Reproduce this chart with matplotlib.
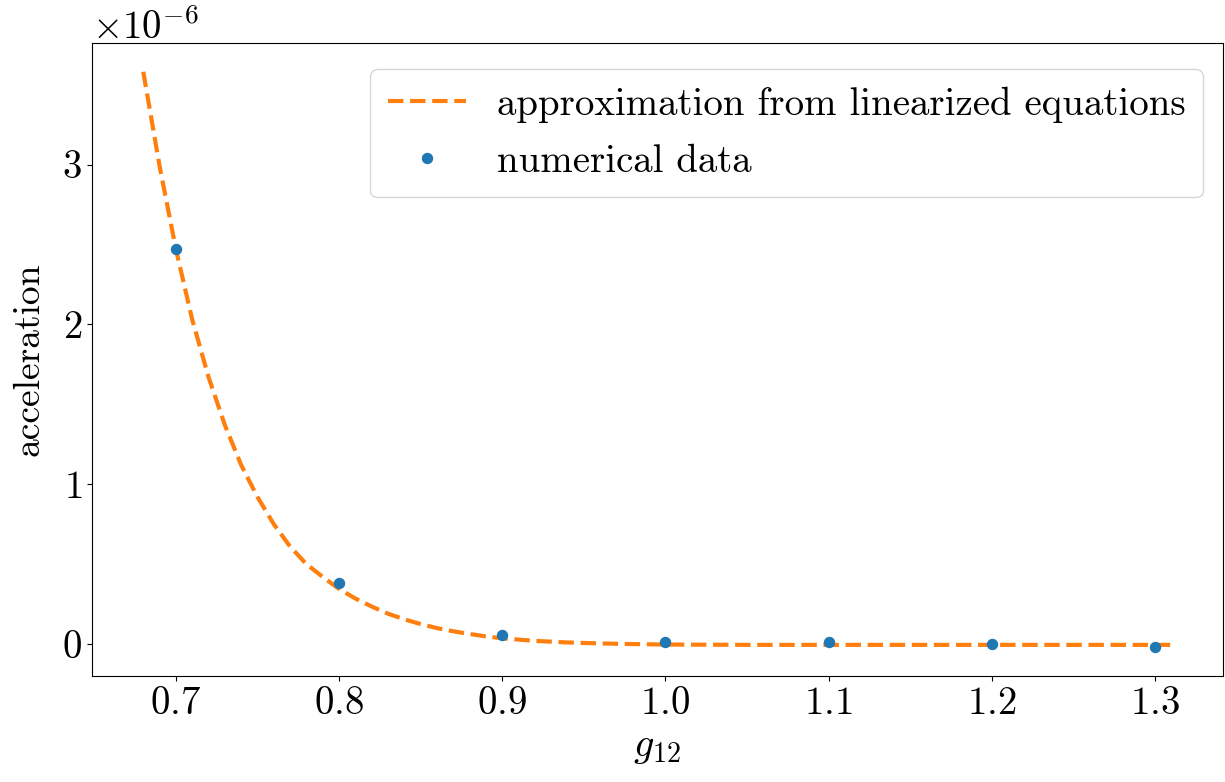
import matplotlib
matplotlib.use("Agg")
import matplotlib.pyplot as plt
from matplotlib.ticker import MultipleLocator
import numpy as np

# valores (aceleracion en unidades de 1e-6)
g12_curve = [0.68, 0.69, 0.70, 0.71, 0.72, 0.73, 0.74, 0.75, 0.76, 0.77, 0.78,
             0.79, 0.80, 0.81, 0.82, 0.83, 0.84, 0.85, 0.86, 0.87, 0.88, 0.89,
             0.90, 0.92, 0.94, 0.96, 0.98, 1.00, 1.05, 1.10, 1.15, 1.20, 1.25, 1.31]
acc_curve = [3.58, 2.99, 2.47, 2.03, 1.67, 1.37, 1.12, 0.92, 0.75, 0.61, 0.50,
             0.42, 0.345, 0.285, 0.235, 0.19, 0.155, 0.125, 0.10, 0.08, 0.063, 0.048,
             0.036, 0.02, 0.01, 0.004, 0.0, -0.003, -0.005, -0.005, -0.005, -0.005,
             -0.005, -0.005]

g12_data = [0.7, 0.8, 0.9, 1.0, 1.1, 1.2, 1.3]
acc_data = [2.47, 0.38, 0.055, 0.015, 0.012, 0.0, -0.02]

plt.rcParams['font.family'] = 'serif'
plt.rcParams['font.serif'] = ['cmr10', 'DejaVu Serif']
plt.rcParams['mathtext.fontset'] = 'cm'
plt.rcParams['axes.formatter.use_mathtext'] = True
plt.rcParams['font.size'] = 28

fig = plt.figure(figsize=(12.25, 7.82), dpi=100)
ax = fig.add_axes([0.075, 0.1355, 0.923, 0.8095])

ax.plot(g12_curve, np.array(acc_curve) * 1e-6, '--', color='#ff7f0e', linewidth=3.0,
        label='approximation from linearized equations')
ax.plot(g12_data, np.array(acc_data) * 1e-6, 'o', color='#1f77b4', markersize=7.2,
        label='numerical data')

ax.yaxis.set_major_locator(MultipleLocator(1e-6))
ax.set_xlabel('$g_{12}$', fontsize=29, labelpad=6)
ax.set_ylabel('acceleration', fontsize=27, labelpad=12)
ax.legend(loc='upper right', bbox_to_anchor=(1.0, 0.99), fontsize=28,
          handlelength=2.0, labelspacing=0.55, borderpad=0.45)

fig.savefig('out.png', dpi=100)
